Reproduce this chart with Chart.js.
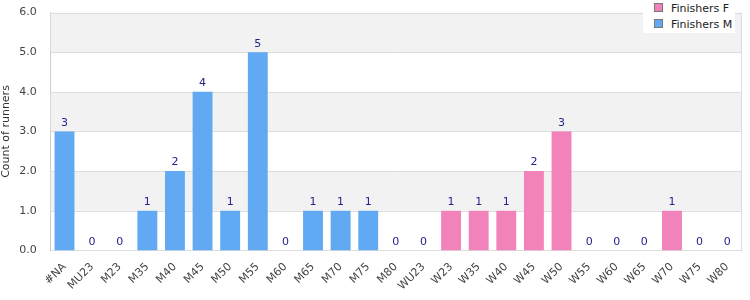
<!DOCTYPE html>
<html>
<head>
<meta charset="utf-8">
<script src="https://cdn.jsdelivr.net/npm/chart.js@4"></script>
<style>
    body { margin: 0; background: #fff; }
    #wrap { position: relative; width: 750px; height: 300px; }
    #legend {
        position: absolute; left: 643px; top: 0px; width: 92px; height: 33px;
        background: #fff; font-family: "DejaVu Sans", sans-serif; font-size: 11px; color: #222;
    }
    #legend div { height: 14px; line-height: 14px; padding-left: 11px; margin-top: 2px; }
    #legend span { display: inline-block; width: 7px; height: 7px; border: 1px solid #777; margin-right: 8px; vertical-align: 0px; }
</style>
</head>
<body>
<div id="wrap">
    <canvas id="myChart" width="750" height="300"></canvas>
    <div id="legend"></div>
</div>
<script>
const categories = ['#NA', 'MU23', 'M23', 'M35', 'M40', 'M45', 'M50', 'M55', 'M60', 'M65', 'M70', 'M75', 'M80',
    'WU23', 'W23', 'W35', 'W40', 'W45', 'W50', 'W55', 'W60', 'W65', 'W70', 'W75', 'W80']
// null where the category belongs to the other group
const finishersM = [3, 0, 0, 1, 2, 4, 1, 5, 0, 1, 1, 1, 0, 0, null, null, null, null, null, null, null, null, null, null, null]
const finishersF = [null, null, null, null, null, null, null, null, null, null, null, null, null, null, 1, 1, 1, 2, 3, 0, 0, 0, 1, 0, 0]
const yTicks = [0, 1, 2, 3, 4, 5, 6]

const blue = '#61a9f3'
const pink = '#f282ba'

// grey/white bands + right border of the plot
const bandsPlugin = {
    id: 'bands',
    beforeDatasetsDraw(chart) {
        let ctx = chart.ctx
        let area = chart.chartArea
        let y = chart.scales.y
        ctx.save()
        ctx.fillStyle = '#f2f2f2'
        for (let i = 1; i < yTicks.length - 1; i += 2) {
            let top = y.getPixelForValue(yTicks[i + 1])
            let bot = y.getPixelForValue(yTicks[i])
            ctx.fillRect(area.left, top, area.right - area.left, bot - top)
        }
        ctx.strokeStyle = '#dddddd'
        ctx.lineWidth = 1
        for (let i = 0; i < yTicks.length; i++) {
            let py = Math.round(y.getPixelForValue(yTicks[i])) + 0.5
            ctx.beginPath()
            ctx.moveTo(area.left, py)
            ctx.lineTo(area.right, py)
            ctx.stroke()
        }
        ctx.beginPath()
        ctx.moveTo(Math.round(area.right) + 0.5, area.top)
        ctx.lineTo(Math.round(area.right) + 0.5, area.bottom)
        ctx.stroke()
        ctx.restore()
    }
}

// count above every bar, also the zeros
const totalsPlugin = {
    id: 'totals',
    afterDatasetsDraw(chart) {
        let ctx = chart.ctx
        let x = chart.scales.x
        let y = chart.scales.y
        ctx.save()
        ctx.font = '11px "DejaVu Sans", sans-serif'
        ctx.fillStyle = '#23238c'
        ctx.textAlign = 'center'
        ctx.textBaseline = 'bottom'
        for (let i = 0; i < categories.length; i++) {
            let total = (finishersM[i] || 0) + (finishersF[i] || 0)
            ctx.fillText(total, x.getPixelForValue(i), y.getPixelForValue(total) - 3)
        }
        ctx.restore()
    }
}

const chart = new Chart(document.getElementById('myChart').getContext('2d'), {
    type: 'bar',
    data: {
        labels: categories,
        datasets: [{
            label: 'Finishers F',
            data: finishersF,
            backgroundColor: pink
        }, {
            label: 'Finishers M',
            data: finishersM,
            backgroundColor: blue
        }]
    },
    options: {
        responsive: false,
        animation: false,
        layout: { padding: { top: -2, right: 9, left: 0, bottom: 5 } },
        datasets: { bar: { categoryPercentage: 0.8, barPercentage: 0.9 } },
        scales: {
            x: {
                stacked: true,
                grid: { display: false },
                border: { color: '#cccccc' },
                ticks: {
                    color: '#444', font: { family: '"DejaVu Sans", sans-serif', size: 11 },
                    minRotation: 45, maxRotation: 45, autoSkip: false, padding: 2
                }
            },
            y: {
                stacked: true,
                min: 0, max: 6,
                grid: { display: false },
                border: { color: '#cccccc' },
                title: {
                    display: true, text: 'Count of runners', color: '#333',
                    font: { family: '"DejaVu Sans", sans-serif', size: 11 }, padding: 0
                },
                ticks: {
                    stepSize: 1, color: '#444', padding: 6,
                    font: { family: '"DejaVu Sans", sans-serif', size: 11 },
                    callback: v => v.toFixed(1)
                }
            }
        },
        plugins: {
            legend: { display: false },
            tooltip: { enabled: false }
        }
    },
    plugins: [bandsPlugin, totalsPlugin]
})

// html legend laid over the top right corner
let legendHtml = ''
chart.data.datasets.forEach(ds => {
    legendHtml += `<div><span style="background:${ds.backgroundColor}"></span>${ds.label}</div>`
})
document.getElementById('legend').innerHTML = legendHtml
</script>
</body>
</html>
